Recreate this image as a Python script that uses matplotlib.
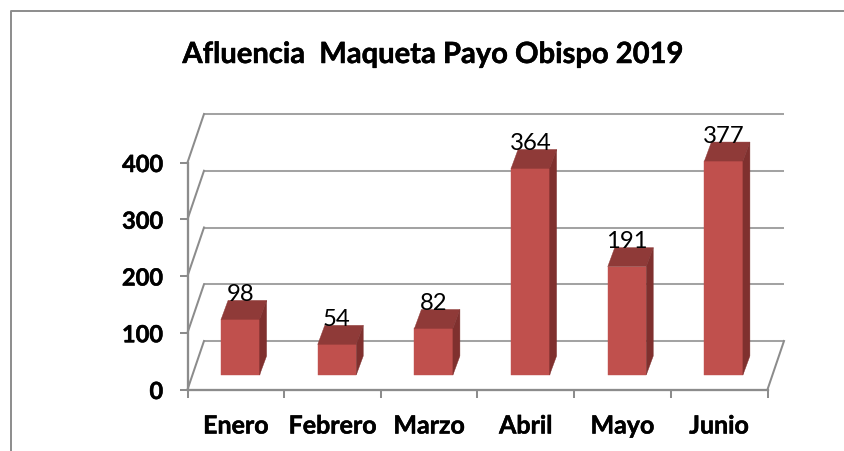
import matplotlib
matplotlib.use("Agg")
import matplotlib.pyplot as plt
import matplotlib.patheffects as pe
from matplotlib.patches import Polygon
from matplotlib.lines import Line2D

months = ["Enero", "Febrero", "Marzo", "Abril", "Mayo", "Junio"]
visitors = [98, 54, 82, 364, 191, 377]
y_ticks = [0, 100, 200, 300, 400]
title = "Afluencia  Maqueta Payo Obispo 2019"

W, H = 844, 451
plt.rcParams["font.family"] = ["Lato", "DejaVu Sans"]
fig = plt.figure(figsize=(W / 100, H / 100), dpi=100, facecolor="white")

LEFT, RIGHT, Y0, Y400 = 187.5, 767.5, 389.5, 162.5
ax = fig.add_axes([LEFT / W, 1 - Y0 / H, (RIGHT - LEFT) / W, (Y0 - Y400) / H])
ax.set_xlim(-0.5, 5.5)
ax.set_ylim(0, 400)
ax.patch.set_alpha(0)

px_x = 6 / (RIGHT - LEFT)          # categories per pixel
px_y = 400 / (Y0 - Y400)           # value units per pixel
GRID = "#a3a3a3"
AXIS = "#8c8c8c"
LW = 1.45
heavy = [pe.withStroke(linewidth=0.35, foreground="black")]

# Wall / floor depth
ddx, ddy = 16.5 * px_x, 48.5 * px_y
for v in y_ticks:
    ax.plot([-0.5 + ddx, 5.5 + ddx], [v + ddy, v + ddy], color=GRID, lw=LW,
            clip_on=False, zorder=1, solid_capstyle="butt")
    ax.plot([-0.5, -0.5 + ddx], [v, v + ddy], color=AXIS, lw=LW, clip_on=False, zorder=1)
ax.plot([5.5, 5.5 + ddx], [0, ddy], color=AXIS, lw=LW, clip_on=False, zorder=1)

# Bars
base = 14.5 * px_y
shift = 4.5 * px_x
bw = 38.5 * px_x
sx, sy = 7 * px_x, 19 * px_y
FRONT, TOP, SIDE = "#c0504d", "#8f3a38", "#7f302e"
xs = [i + shift for i in range(len(months))]
ax.bar(xs, visitors, width=bw, bottom=base, color=FRONT, edgecolor=FRONT,
       linewidth=0.3, clip_on=False, zorder=3)
for x, v in zip(xs, visitors):
    l, r, t = x - bw / 2, x + bw / 2, base + v
    ax.add_patch(Polygon([(l, t), (r, t), (r + sx, t + sy), (l + sx, t + sy)],
                         fc=TOP, ec=TOP, lw=0.3, clip_on=False, zorder=3))
    ax.add_patch(Polygon([(r, base), (r, t), (r + sx, t + sy), (r + sx, base + sy)],
                         fc=SIDE, ec=SIDE, lw=0.3, clip_on=False, zorder=3))
    ax.annotate(str(v), (x, t), xytext=(0, 25 * 0.72), textcoords="offset points",
                ha="center", va="center", fontsize=17.2, color="black", zorder=5,
                annotation_clip=False)

# Axes
for s in ("top", "right"):
    ax.spines[s].set_visible(False)
for s in ("left", "bottom"):
    ax.spines[s].set_color(AXIS)
    ax.spines[s].set_linewidth(LW + 0.2)
ax.set_yticks(y_ticks)
ax.set_yticklabels([str(v) for v in y_ticks], fontsize=17, fontweight="bold",
                   path_effects=heavy)
ax.tick_params(axis="y", length=5.5, width=LW, color=AXIS, pad=12)
ax.set_xticks([i - 0.5 for i in range(len(months) + 1)])
ax.set_xticklabels([])
ax.tick_params(axis="x", which="major", length=5.5, width=LW, color=AXIS)
ax.set_xticks(range(len(months)), minor=True)
ax.set_xticklabels(months, minor=True, fontsize=18, fontweight="bold", path_effects=heavy)
ax.tick_params(axis="x", which="minor", length=0, pad=18)

fig.text(433 / W, 1 - 55 / H, title, ha="center", va="center",
         fontsize=21, fontweight="bold", color="black", path_effects=heavy)

# Outer chart frame (open on the right and bottom)
fig.add_artist(Line2D([10.5 / W, 10.5 / W, 1], [0, 1 - 10.5 / H, 1 - 10.5 / H],
                      color="#8c8c8c", lw=1.4))

fig.savefig("out.png", dpi=100, facecolor="white")
